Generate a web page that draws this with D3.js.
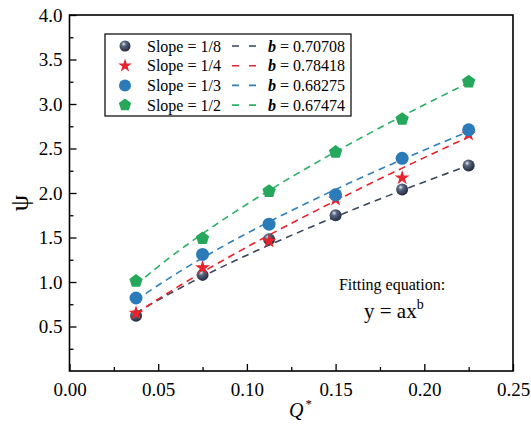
<!DOCTYPE html>
<html><head><meta charset="utf-8">
<script src="https://cdn.jsdelivr.net/npm/d3@7"></script>
<style>body{margin:0;background:#fff}svg{display:block}svg text{font-family:'Liberation Serif',serif !important}</style>
</head><body><svg id="c" width="531" height="425"></svg>
<script>
const xValues = [0.0375, 0.075, 0.1125, 0.15, 0.1875, 0.225];
const seriesNames = ["Slope = 1/8", "Slope = 1/4", "Slope = 1/3", "Slope = 1/2"];
const psi18 = [0.62, 1.08, 1.48, 1.75, 2.04, 2.31];
const psi14 = [0.65, 1.16, 1.46, 1.93, 2.17, 2.66];
const psi13 = [0.82, 1.31, 1.65, 1.98, 2.39, 2.71];
const psi12 = [1.01, 1.49, 2.02, 2.46, 2.83, 3.25];
const fitB = [0.70708, 0.78418, 0.68275, 0.67474];
const fitA = [6.63, 8.47, 7.45, 8.86];
const xTicks = [0, 0.05, 0.10, 0.15, 0.20, 0.25];
const yTicks = [0.5, 1.0, 1.5, 2.0, 2.5, 3.0, 3.5, 4.0];
const colors = ["#36425a", "#e8232b", "#2b7bb9", "#25a85c"];
const lineColors = ["#3a4660", "#e8232b", "#2f80bd", "#2bb064"];
const allSeries = [psi18, psi14, psi13, psi12];
const FONT = "'Liberation Serif', serif";

const svg = d3.select("#c");
const L = 69.5, R = 513, T = 15, B = 371;
const x = d3.scaleLinear().domain([0, 0.25]).range([L, R]);
const y = d3.scaleLinear().domain([0, 4]).range([B, T]);

const defs = svg.append("defs");
const g = defs.append("radialGradient").attr("id","sph").attr("cx","0.38").attr("cy","0.32").attr("r","0.7");
g.append("stop").attr("offset","0").attr("stop-color","#e8ecf2");
g.append("stop").attr("offset","0.3").attr("stop-color","#5a6780");
g.append("stop").attr("offset","1").attr("stop-color","#1e283a");

// axes
const xAx = svg.append("g").attr("transform",`translate(0,${B})`)
  .call(d3.axisBottom(x).tickValues(xTicks).tickFormat(d3.format(".2f")).tickSizeInner(-7).tickSizeOuter(0).tickPadding(12));
const xMin = svg.append("g").attr("transform",`translate(0,${B})`)
  .call(d3.axisBottom(x).tickValues([0.025,0.075,0.125,0.175,0.225]).tickFormat("").tickSizeInner(-4).tickSizeOuter(0));
const yAx = svg.append("g").attr("transform",`translate(${L},0)`)
  .call(d3.axisLeft(y).tickValues(yTicks).tickFormat(d3.format(".1f")).tickSizeInner(-7).tickSizeOuter(0).tickPadding(7));
const yMin = svg.append("g").attr("transform",`translate(${L},0)`)
  .call(d3.axisLeft(y).tickValues([0.25,0.75,1.25,1.75,2.25,2.75,3.25,3.75]).tickFormat("").tickSizeInner(-4).tickSizeOuter(0));
[xAx,xMin,yAx,yMin].forEach(a=>{a.attr("font-family",FONT);a.select(".domain").remove();a.selectAll("line").attr("stroke","#000").attr("stroke-width",1.3);
  a.selectAll("text").attr("font-size",19).attr("fill","#000").style("font-family",FONT);});
svg.append("rect").attr("x",L).attr("y",T).attr("width",R-L).attr("height",B-T).attr("fill","none").attr("stroke","#000").attr("stroke-width",1.6);

// fit lines
const fx = d3.range(0, 61).map(i => xValues[0] + (xValues[5]-xValues[0])*i/60);
allSeries.forEach((s,i)=>{
  const line = d3.line().x(d=>x(d)).y(d=>y(fitA[i]*Math.pow(d,fitB[i])));
  svg.append("path").attr("d",line(fx)).attr("fill","none").attr("stroke",lineColors[i])
    .attr("stroke-width",1.6).attr("stroke-dasharray","7,5");
});

// markers
function marker(sel, i, cx, cy, sz){
  if(i===0) sel.append("circle").attr("cx",cx).attr("cy",cy).attr("r",sz).attr("fill","url(#sph)");
  else if(i===1) sel.append("path").attr("d",d3.symbol(d3.symbolStar, sz*sz*1.9)()).attr("transform",`translate(${cx},${cy})`).attr("fill",colors[1]);
  else if(i===2) sel.append("circle").attr("cx",cx).attr("cy",cy).attr("r",sz+0.5).attr("fill",colors[2]);
  else {
    const pts = d3.range(5).map(k=>{const a=-Math.PI/2+k*2*Math.PI/5;return [cx+(sz+1)*Math.cos(a), cy+(sz+1)*Math.sin(a)];});
    sel.append("polygon").attr("points",pts.map(p=>p.join(",")).join(" ")).attr("fill",colors[3]);
  }
}
allSeries.forEach((s,i)=>{
  s.forEach((v,j)=>marker(svg,i,x(xValues[j]),y(v),6));
});

// legend
const lg = svg.append("g");
lg.append("rect").attr("x",105).attr("y",34).attr("width",246).attr("height",82).attr("fill","#fff").attr("stroke","#000").attr("stroke-width",1.2);
seriesNames.forEach((n,i)=>{
  const yy = 46 + i*19.7;
  marker(lg,i,125,yy,5.5);
  lg.append("text").attr("x",147).attr("y",yy+5.5).attr("font-size",16).style("font-family",FONT).text(n);
  lg.append("line").attr("x1",232).attr("x2",256).attr("y1",yy).attr("y2",yy).attr("stroke",lineColors[i]).attr("stroke-width",1.6).attr("stroke-dasharray","7,10");
  const t = lg.append("text").attr("x",268).attr("y",yy+5.5).attr("font-size",16).style("font-family",FONT);
  t.append("tspan").attr("font-weight","bold").attr("font-style","italic").text("b");
  t.append("tspan").text(" = " + fitB[i].toFixed(5));
});

// annotations
svg.append("text").attr("x",392).attr("y",290).attr("text-anchor","middle").attr("font-size",16).style("font-family",FONT).text("Fitting equation:");
const eq = svg.append("text").attr("x",364).attr("y",318).attr("font-size",21).style("font-family",FONT);
eq.append("tspan").text("y = ax");
eq.append("tspan").attr("font-size",14).attr("dy",-9).text("b");

// axis titles
const xl = svg.append("text").attr("x",289).attr("y",417).attr("font-size",20).style("font-family",FONT);
xl.append("tspan").attr("font-style","italic").text("Q");
xl.append("tspan").attr("font-size",13).attr("dy",-9).attr("dx",2).text("*");
svg.append("text").attr("transform","translate(28,203) rotate(-90)").attr("text-anchor","middle").attr("font-size",26).style("font-family",FONT).text("ψ");
</script></body></html>
